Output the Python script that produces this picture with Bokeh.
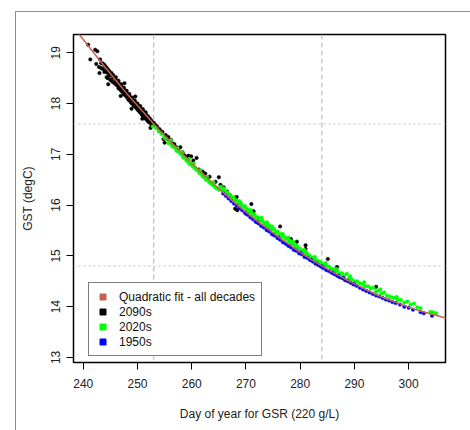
from bokeh.plotting import figure
from bokeh.models import Span, Legend, LegendItem, FixedTicker
from bokeh.embed import file_html
from bokeh.resources import INLINE

# ---------------- data ----------------
x_ticks = [240, 250, 260, 270, 280, 290, 300]
y_ticks = [13, 14, 15, 16, 17, 18, 19]
v_lines = [253, 284]
h_lines = [17.6, 14.8]
x_title = "Day of year for GSR (220 g/L)"
y_title = "GST (degC)"

fit_x = [238, 240, 242, 244, 246, 248, 250, 252, 254, 256, 258, 260, 262, 264, 266, 268,
         270, 272, 274, 276, 278, 280, 282, 284, 286, 288, 290, 292, 294, 296, 298, 300,
         302, 304, 306, 308]
fit_y = [19.54, 19.26, 18.99, 18.72, 18.46, 18.20, 17.96, 17.72, 17.48, 17.26, 17.04, 16.83,
         16.62, 16.42, 16.23, 16.04, 15.86, 15.69, 15.53, 15.37, 15.22, 15.07, 14.93, 14.80,
         14.68, 14.56, 14.45, 14.34, 14.24, 14.15, 14.07, 13.99, 13.92, 13.86, 13.80, 13.75]

pts_2090s = [
    (240.9, 19.16), (241.3, 18.87), (242.2, 19.06), (242.6, 19.03), (242.4, 18.78), (242.9, 18.72),
    (243.1, 18.87), (243.0, 18.60), (243.3, 18.80), (243.3, 18.70), (243.6, 18.79), (243.6, 18.68),
    (243.9, 18.76), (243.9, 18.62), (244.1, 18.64), (244.1, 18.73), (244.3, 18.52), (244.3, 18.70),
    (244.5, 18.60), (244.5, 18.68), (244.5, 18.50), (244.6, 18.38), (244.8, 18.64), (244.8, 18.55),
    (245.0, 18.58), (245.0, 18.47), (245.2, 18.60), (245.2, 18.45), (245.5, 18.52), (245.5, 18.42),
    (245.5, 18.56), (245.8, 18.50), (245.8, 18.40), (246.0, 18.47), (246.0, 18.38), (246.0, 18.52),
    (246.3, 18.44), (246.3, 18.35), (246.5, 18.41), (246.5, 18.30), (246.5, 18.45), (246.8, 18.37),
    (246.8, 18.28), (246.9, 18.15), (247.0, 18.34), (247.0, 18.25), (247.0, 18.38), (247.3, 18.30),
    (247.3, 18.22), (247.5, 18.28), (247.5, 18.18), (247.5, 18.31), (247.6, 18.40), (247.8, 18.24),
    (247.8, 18.16), (248.0, 18.21), (248.0, 18.13), (248.0, 18.25), (248.3, 18.18), (248.3, 18.08),
    (248.5, 18.15), (248.5, 18.06), (248.5, 18.19), (248.8, 18.11), (248.8, 18.02), (248.9, 17.90),
    (249.0, 18.09), (249.0, 18.00), (249.0, 18.12), (249.3, 18.05), (249.3, 17.96), (249.5, 18.03),
    (249.5, 17.94), (249.5, 18.06), (249.6, 18.14), (249.8, 17.99), (249.8, 17.91), (250.0, 17.97),
    (250.0, 17.88), (250.0, 18.00), (250.3, 17.93), (250.3, 17.85), (250.5, 17.91), (250.5, 17.82),
    (250.5, 17.95), (250.8, 17.87), (250.8, 17.78), (250.9, 17.70), (251.0, 17.85), (251.0, 17.76),
    (251.0, 17.89), (251.3, 17.82), (251.3, 17.73), (251.5, 17.79), (251.5, 17.70), (251.5, 17.83),
    (251.8, 17.76), (251.8, 17.67), (252.0, 17.74), (252.0, 17.64), (252.3, 17.70), (252.3, 17.62),
    (252.4, 17.52), (252.6, 17.66), (252.6, 17.57), (253.0, 17.62), (253.3, 17.58), (253.6, 17.55),
    (254.0, 17.50), (254.2, 17.47), (254.6, 17.44), (254.8, 17.30), (255.0, 17.23), (255.2, 17.38),
    (255.5, 17.30), (255.7, 17.34), (256.2, 17.28), (256.4, 17.22), (256.8, 17.20), (257.2, 17.14),
    (257.6, 17.12), (257.9, 17.14), (258.3, 17.04), (258.6, 16.98), (259.0, 16.95), (259.4, 16.97),
    (259.9, 16.96), (260.3, 16.88), (260.9, 16.93), (261.3, 16.70), (262.0, 16.66), (262.5, 16.62),
    (263.3, 16.56), (264.4, 16.46), (265.0, 16.55), (265.3, 16.40), (265.9, 16.35), (266.5, 16.27),
    (267.0, 16.20), (268.0, 15.93), (268.3, 16.16), (268.4, 15.90), (269.0, 16.03), (271.0, 16.02),
    (271.4, 15.88), (272.5, 15.72), (276.3, 15.58), (278.3, 15.33), (279.4, 15.28), (281.0, 15.21),
    (281.0, 15.14), (285.1, 14.94), (286.8, 14.78), (294.0, 14.39),
]

pts_2020s = [
    (252.8, 17.55), (253.4, 17.52), (253.9, 17.45), (254.4, 17.40), (254.9, 17.33), (255.3, 17.30),
    (255.7, 17.22), (256.0, 17.24), (256.2, 17.27), (256.3, 17.17), (256.6, 17.15), (256.9, 17.13),
    (257.2, 17.07), (257.4, 17.12), (257.5, 17.06), (257.8, 17.02), (258.1, 17.00), (258.2, 17.04),
    (258.4, 16.94), (258.7, 16.93), (259.0, 16.88), (259.3, 16.86), (259.5, 16.91), (259.6, 16.81),
    (259.9, 16.80), (260.2, 16.76), (260.4, 16.82), (260.5, 16.74), (260.8, 16.70), (261.1, 16.68),
    (261.4, 16.63), (261.6, 16.69), (261.7, 16.62), (262.0, 16.57), (262.3, 16.55), (262.6, 16.50),
    (262.8, 16.56), (262.9, 16.50), (263.2, 16.45), (263.5, 16.43), (263.8, 16.40), (264.0, 16.45),
    (264.1, 16.38), (264.4, 16.34), (264.7, 16.33), (265.0, 16.30), (265.3, 16.36), (265.6, 16.30),
    (265.9, 16.33), (266.2, 16.27), (266.5, 16.26), (266.8, 16.20), (267.1, 16.20), (267.4, 16.14),
    (267.7, 16.16), (268.0, 16.10), (268.3, 16.09), (268.6, 16.03), (268.8, 16.08), (268.9, 16.05),
    (269.0, 16.03), (269.2, 16.00), (269.5, 15.97), (269.8, 15.98), (270.0, 15.95), (270.1, 15.90),
    (270.4, 15.92), (270.7, 15.86), (270.9, 15.90), (271.0, 15.85), (271.3, 15.80), (271.6, 15.82),
    (271.9, 15.76), (272.2, 15.76), (272.5, 15.72), (272.8, 15.70), (272.9, 15.75), (273.1, 15.68),
    (273.4, 15.64), (273.7, 15.63), (273.9, 15.66), (274.0, 15.58), (274.3, 15.60), (274.6, 15.55),
    (274.8, 15.58), (274.9, 15.52), (275.2, 15.53), (275.5, 15.47), (275.8, 15.48), (276.1, 15.42),
    (276.4, 15.43), (276.7, 15.38), (276.8, 15.43), (277.0, 15.38), (277.3, 15.33), (277.6, 15.34),
    (277.8, 15.36), (277.9, 15.28), (278.2, 15.30), (278.5, 15.24), (278.7, 15.28), (278.8, 15.24),
    (279.1, 15.19), (279.4, 15.20), (279.7, 15.15), (280.0, 15.14), (280.3, 15.10), (280.6, 15.10),
    (280.8, 15.12), (280.9, 15.05), (281.2, 15.06), (281.5, 15.01), (281.8, 15.00), (282.1, 14.97),
    (282.5, 14.96), (282.7, 14.98), (282.9, 14.92), (283.3, 14.90), (283.7, 14.88), (284.1, 14.84),
    (284.5, 14.83), (284.7, 14.86), (284.9, 14.80), (285.3, 14.79), (285.7, 14.75), (286.1, 14.74),
    (286.5, 14.70), (286.7, 14.74), (286.9, 14.70), (287.3, 14.65), (287.7, 14.66), (288.1, 14.61),
    (288.6, 14.65), (289.0, 14.56), (289.2, 14.60), (289.5, 14.54), (290.0, 14.50), (290.5, 14.50),
    (291.0, 14.46), (291.5, 14.44), (291.8, 14.48), (292.0, 14.40), (292.5, 14.40), (293.0, 14.36),
    (293.5, 14.37), (294.0, 14.30), (294.5, 14.32), (294.8, 14.34), (295.0, 14.26), (295.5, 14.28),
    (296.0, 14.22), (296.5, 14.20), (297.0, 14.18), (297.5, 14.17), (297.8, 14.19), (298.0, 14.13),
    (298.6, 14.13), (299.2, 14.08), (299.8, 14.10), (300.4, 14.04), (301.0, 14.06), (301.6, 13.99),
    (302.2, 13.97), (304.0, 13.90), (304.5, 13.89), (305.1, 13.87),
]

pts_1950s = [
    (265.8, 16.23), (266.3, 16.18), (266.8, 16.13), (267.3, 16.08), (267.8, 16.03), (268.3, 15.99),
    (268.8, 15.94), (269.3, 15.90), (269.8, 15.85), (270.0, 15.83), (270.3, 15.81), (270.8, 15.76),
    (271.3, 15.72), (271.8, 15.67), (272.0, 15.67), (272.3, 15.64), (272.8, 15.59), (273.3, 15.56),
    (273.8, 15.51), (274.0, 15.51), (274.3, 15.48), (274.8, 15.43), (275.0, 15.42), (275.3, 15.40),
    (275.8, 15.35), (276.0, 15.36), (276.3, 15.32), (276.8, 15.27), (277.3, 15.24), (277.8, 15.20),
    (278.0, 15.20), (278.3, 15.17), (278.8, 15.12), (279.0, 15.12), (279.3, 15.10), (279.8, 15.05),
    (280.0, 15.06), (280.3, 15.03), (280.8, 14.98), (281.3, 14.96), (281.8, 14.92), (282.0, 14.92),
    (282.3, 14.89), (282.8, 14.85), (283.0, 14.85), (283.3, 14.82), (283.8, 14.79), (284.0, 14.79),
    (284.3, 14.76), (284.8, 14.72), (285.3, 14.70), (285.8, 14.67), (286.0, 14.67), (286.3, 14.64),
    (286.8, 14.61), (287.0, 14.61), (287.3, 14.58), (287.8, 14.56), (288.0, 14.56), (288.3, 14.52),
    (288.8, 14.50), (289.3, 14.47), (289.8, 14.44), (290.0, 14.44), (290.4, 14.41), (291.0, 14.37),
    (291.6, 14.34), (292.2, 14.31), (292.8, 14.28), (293.4, 14.25), (294.0, 14.22), (294.6, 14.20),
    (295.2, 14.17), (295.8, 14.14), (296.4, 14.12), (297.0, 14.09), (297.6, 14.07), (298.4, 14.04),
    (299.2, 14.00), (300.0, 13.98), (300.8, 13.94), (302.2, 13.89), (302.8, 13.87), (304.3, 13.82),
]

series_labels = ["Quadratic fit - all decades", "2090s", "2020s", "1950s"]
series_colors = ["#c8624e", "#000000", "#00ff00", "#0000ff"]

# ---------------- figure ----------------
FONT = "Liberation Sans"
p = figure(width=470, height=430, x_range=(238.2, 306.8), y_range=(12.9, 19.36),
           output_backend="svg", toolbar_location=None,
           min_border_left=73, min_border_right=25, min_border_top=34, min_border_bottom=68,
           x_axis_label=x_title, y_axis_label=y_title)
# grey page edge (left and top) drawn behind a transparent canvas border area
p.styles = {"box-shadow": "inset 15px 11px 0 0 #ffffff, inset 16px 12px 0 0 #8c8c8c",
            "background-color": "#ffffff"}
p.border_fill_alpha = 0
p.grid.visible = False
p.background_fill_color = "white"
p.outline_line_color = "black"
p.outline_line_width = 1.5

p.xaxis.ticker = FixedTicker(ticks=x_ticks)
p.yaxis.ticker = FixedTicker(ticks=y_ticks)
p.yaxis.major_label_orientation = "vertical"
for ax in (p.xaxis, p.yaxis):
    ax.axis_line_color = None
    ax.major_tick_line_color = "black"
    ax.major_tick_in = 0
    ax.major_tick_out = 7
    ax.minor_tick_line_color = None
    ax.major_label_text_font = FONT
    ax.major_label_text_font_size = "12px"
    ax.major_label_text_color = "#222222"
    ax.axis_label_text_font = FONT
    ax.axis_label_text_font_size = "12px"
    ax.axis_label_text_font_style = "normal"
    ax.axis_label_text_color = "#222222"
p.xaxis.major_label_standoff = 9
p.yaxis.major_label_standoff = 6
p.xaxis.axis_label_standoff = 16
p.yaxis.axis_label_standoff = 14

for v in v_lines:
    p.add_layout(Span(location=v, dimension="height", line_color="#b0b0b0",
                      line_dash="5 3", line_width=1, level="underlay"))
for h in h_lines:
    p.add_layout(Span(location=h, dimension="width", line_color="#bdbdbd",
                      line_dash="2 3", line_width=1, level="underlay"))

def xs(pts):
    return [q[0] for q in pts]

def ys(pts):
    return [q[1] for q in pts]

p.scatter(xs(pts_2090s), ys(pts_2090s), size=3.5, color=series_colors[1], line_width=0.5)
p.scatter(xs(pts_2020s), ys(pts_2020s), size=3.5, color=series_colors[2], line_width=0.5)
p.scatter(xs(pts_1950s), ys(pts_1950s), size=3.5, color=series_colors[3], line_width=0.5)
p.line(fit_x, fit_y, line_color=series_colors[0], line_width=1.5)

# legend with square keys (key renderers hold no visible data)
nan = float("nan")
items = []
for lab, col in zip(series_labels, series_colors):
    r = p.scatter([nan], [nan], marker="square", color=col)
    items.append(LegendItem(label=lab, renderers=[r]))
legend = Legend(items=items, location=(15, 6), orientation="vertical",
                border_line_color="black", border_line_width=1.5,
                background_fill_color="white", background_fill_alpha=1.0,
                padding=6, spacing=0, margin=0,
                glyph_width=15, glyph_height=15, label_height=15, label_standoff=9,
                label_text_font=FONT, label_text_font_size="12px", label_text_color="#111111")
p.add_layout(legend)

open("out.html", "w").write(file_html(p, INLINE))
